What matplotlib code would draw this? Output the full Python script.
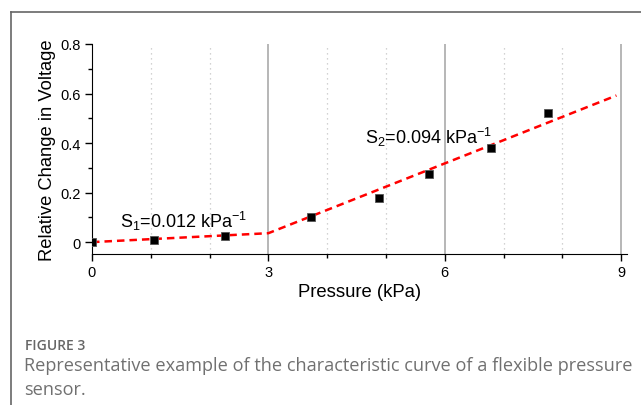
import matplotlib
matplotlib.use('Agg')
import matplotlib.pyplot as plt
from matplotlib.lines import Line2D
from matplotlib.ticker import MultipleLocator

plt.rcParams['font.family'] = 'Liberation Sans'
plt.rcParams['mathtext.fontset'] = 'custom'
plt.rcParams['mathtext.rm'] = 'Liberation Sans'
plt.rcParams['mathtext.it'] = 'Liberation Sans:italic'

# measured points
pressure = [0.0, 1.05, 2.27, 3.73, 4.89, 5.74, 6.78, 7.75]
rel_change = [0.0, 0.008, 0.025, 0.10, 0.18, 0.276, 0.38, 0.52]

# piecewise linear fit (two sensitivity regions)
fit_x = [0.0, 3.0, 8.92]
fit_y = [0.0, 0.036, 0.592]

s1_label = 'S$_1$=0.012 kPa$^{-1}$'
s2_label = 'S$_2$=0.094 kPa$^{-1}$'

fig = plt.figure(figsize=(6.41, 4.06), dpi=100)
ax = fig.add_axes([92 / 641, 151 / 406, 535 / 641, 210 / 406])

ax.plot(fit_x, fit_y, color='#ff0000', linestyle=(0, (3, 2)), linewidth=1.8, zorder=3)
ax.plot(pressure, rel_change, linestyle='none', marker='s', markersize=6,
        markerfacecolor='black', markeredgecolor='#555555', markeredgewidth=0.6, zorder=4)

ax.text(0.48, 0.062, s1_label, fontsize=13, va='baseline')
ax.text(4.65, 0.40, s2_label, fontsize=13, va='baseline')

ax.set_xlim(0, 9.1)
ax.set_ylim(-0.048, 0.8)
ax.xaxis.set_major_locator(MultipleLocator(3))
ax.xaxis.set_minor_locator(MultipleLocator(1))
ax.yaxis.set_minor_locator(MultipleLocator(0.1))
ax.set_yticks([0, 0.2, 0.4, 0.6, 0.8])
ax.set_yticklabels(['0', '0.2', '0.4', '0.6', '0.8'])

ax.grid(True, axis='x', which='major', color='#aaaaaa', linewidth=1.2, linestyle='-')
ax.grid(True, axis='x', which='minor', color='#c4c4c4', linewidth=0.9, linestyle=(0, (1, 3)))
ax.set_axisbelow(True)

ax.spines['top'].set_visible(False)
ax.spines['right'].set_visible(False)
ax.tick_params(which='major', direction='out', length=5, width=1, labelsize=10.5, pad=3)
ax.tick_params(which='minor', direction='out', length=3, width=1)

ax.set_xlabel('Pressure (kPa)', fontsize=13.3, labelpad=3)
ax.set_ylabel('Relative Change in Voltage', fontsize=13.2, labelpad=3)

# page frame lines
fig.add_artist(Line2D([11 / 641, 1], [1 - 13 / 406, 1 - 13 / 406], color='#666666', linewidth=1.2))
fig.add_artist(Line2D([11 / 641, 11 / 641], [0, 1 - 13 / 406], color='#666666', linewidth=1.2))

# caption
fig.text(25 / 641, 1 - 346 / 406, 'FIGURE 3', fontsize=10, color='#666666',
         family='Open Sans', fontweight='semibold', va='center')
fig.text(24 / 641, 1 - 366 / 406,
         'Representative example of the characteristic curve of a flexible pressure',
         fontsize=13.05, color='#707070', family='Open Sans', va='center')
fig.text(24 / 641, 1 - 390 / 406, 'sensor.', fontsize=13.05, color='#707070',
         family='Open Sans', va='center')

fig.savefig('out.png', dpi=100)
